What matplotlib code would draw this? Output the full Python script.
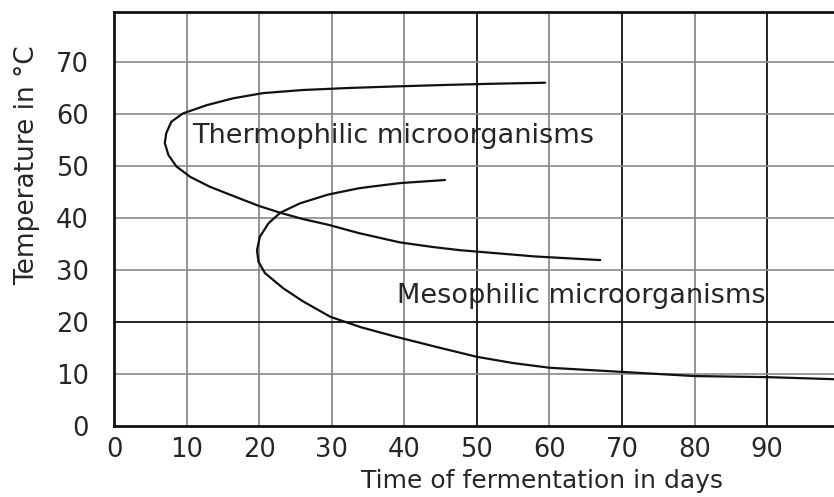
import matplotlib
matplotlib.use("Agg")
import matplotlib.pyplot as plt

# ---- data ----
x_ticks = [0, 10, 20, 30, 40, 50, 60, 70, 80, 90]
y_ticks = [0, 10, 20, 30, 40, 50, 60, 70]

thermo_days = [59.4, 52.0, 46.3, 39.0, 32.5, 26.0, 20.5, 16.4, 12.8, 9.5, 7.9, 7.2, 7.0,
               7.5, 8.6, 10.5, 13.2, 17.4, 20.0, 22.9, 26.0, 29.5, 33.7, 39.4, 44.0, 47.7,
               52.0, 58.0, 67.0]
thermo_temp = [66.0, 65.8, 65.6, 65.3, 65.0, 64.6, 64.0, 63.0, 61.7, 60.1, 58.5, 56.3, 54.4,
               52.1, 49.9, 47.9, 46.0, 43.7, 42.3, 41.0, 39.8, 38.7, 37.1, 35.3, 34.4, 33.8,
               33.3, 32.6, 31.9]

meso_days = [45.6, 42.5, 39.4, 35.3, 33.7, 29.5, 25.6, 22.9, 21.3, 20.1, 19.7, 19.9, 20.8,
             23.3, 26.0, 29.8, 34.0, 39.0, 45.0, 50.0, 55.0, 60.0, 65.0, 70.0, 75.0, 80.0,
             85.0, 90.0, 99.2]
meso_temp = [47.3, 47.0, 46.7, 46.0, 45.7, 44.5, 42.8, 41.0, 39.0, 36.4, 33.8, 31.6, 29.4,
             26.5, 24.0, 21.0, 19.0, 17.1, 15.0, 13.3, 12.1, 11.2, 10.8, 10.4, 10.0, 9.6,
             9.5, 9.4, 9.0]

x_label = "Time of fermentation in days"
y_label = "Temperature in °C"
thermo_text = "Thermophilic microorganisms"
meso_text = "Mesophilic microorganisms"

# ---- figure ----
W, H = 834, 497
fig = plt.figure(figsize=(W / 100, H / 100), dpi=100)
ax = fig.add_axes([114 / W, (H - 426) / H, 720 / W, 414 / H])
ax.set_xlim(0, 99.2)
ax.set_ylim(0, 79.6)

# grid
for xv in x_ticks[1:]:
    dark = xv in (50, 70, 90)
    ax.axvline(xv, color="#111111" if dark else "#8a8a8a", lw=1.3, zorder=1)
for yv in y_ticks[1:]:
    dark = yv in (20,)
    ax.axhline(yv, color="#111111" if dark else "#8a8a8a", lw=1.3 if dark else 1.2, zorder=1)

ax.plot(thermo_days, thermo_temp, color="#111111", lw=1.6, zorder=3,
        solid_capstyle="round", solid_joinstyle="round")
ax.plot(meso_days, meso_temp, color="#111111", lw=1.6, zorder=3,
        solid_capstyle="round", solid_joinstyle="round")

tcolor = "#262626"
ax.text(10.7, 55.8, thermo_text, fontsize=19.5, color=tcolor, va="center", ha="left", zorder=4)
ax.text(39.0, 25.0, meso_text, fontsize=19.5, color=tcolor, va="center", ha="left", zorder=4)

ax.set_xticks(x_ticks)
ax.set_yticks(y_ticks)
ax.set_xticklabels([str(v) for v in x_ticks], fontsize=18.5, color=tcolor)
ax.set_yticklabels([str(v) for v in y_ticks], fontsize=18.5, color=tcolor)
ax.tick_params(axis="both", length=0)
ax.tick_params(axis="x", pad=8)
ax.tick_params(axis="y", pad=18)

for side in ("left", "bottom", "top"):
    ax.spines[side].set_linewidth(2.0)
    ax.spines[side].set_color("#111111")
ax.spines["right"].set_visible(False)

ax.set_xlabel(x_label, fontsize=18, color=tcolor)
ax.xaxis.set_label_coords(0.594, -0.104)
ax.set_ylabel(y_label, fontsize=19, color=tcolor)
ax.yaxis.set_label_coords(-0.102, 0.63)

fig.savefig("out.png", dpi=100)
